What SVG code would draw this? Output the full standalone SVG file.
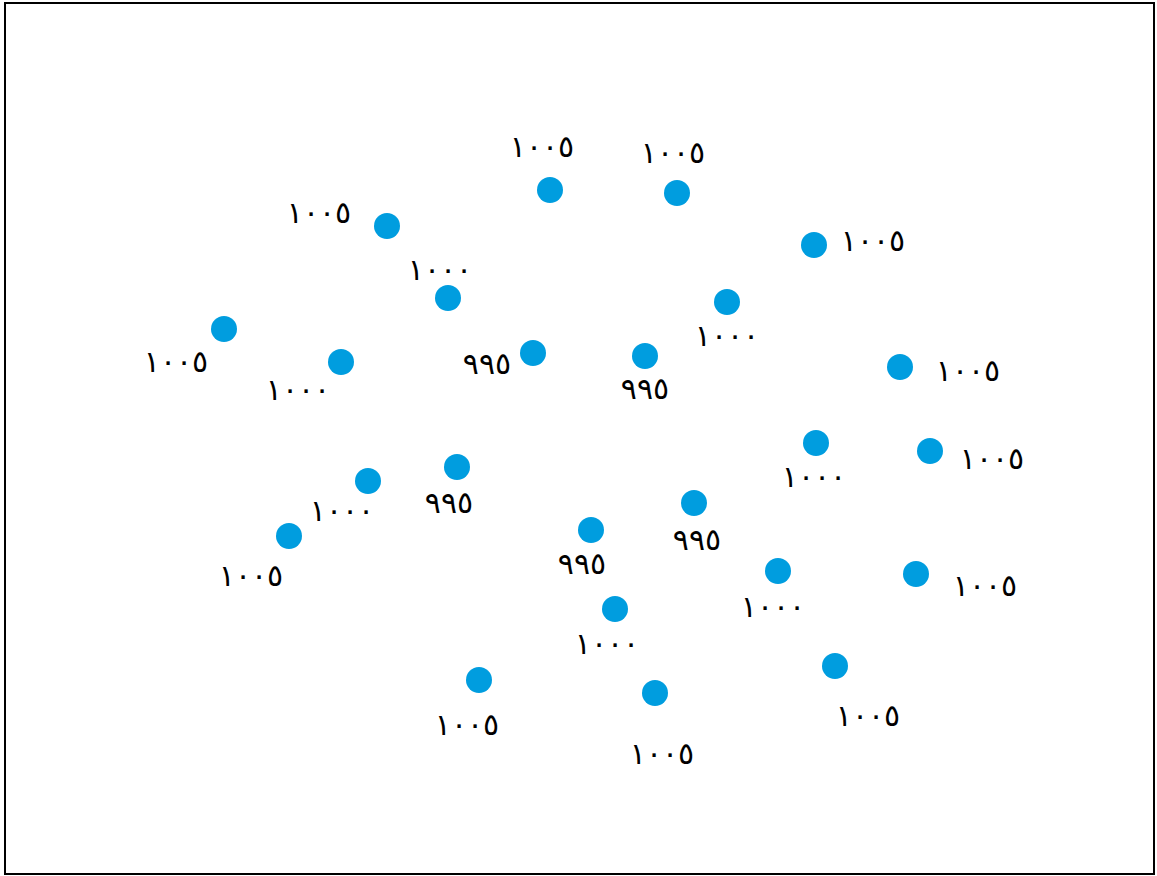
<svg xmlns="http://www.w3.org/2000/svg" width="1157" height="876" viewBox="0 0 1157 876">
<style>
.dot{fill:#009ddf;}
.lbl{font-family:"DejaVu Sans","Noto Sans",sans-serif;font-size:30px;fill:#000;text-anchor:middle;}
</style>
<rect x="0" y="0" width="1157" height="876" fill="#fff"/>
<rect x="5" y="3" width="1149" height="871" fill="none" stroke="#000" stroke-width="2"/>
<g id="connectors"/>
<g id="n1"><circle class="dot" cx="550" cy="190" r="13"/><text class="lbl" x="542" y="157">١٠٠٥</text></g>
<g id="n2"><circle class="dot" cx="677" cy="193" r="13"/><text class="lbl" x="673" y="163">١٠٠٥</text></g>
<g id="n3"><circle class="dot" cx="387" cy="226" r="13"/><text class="lbl" x="319" y="223">١٠٠٥</text></g>
<g id="n4"><circle class="dot" cx="814" cy="245" r="13"/><text class="lbl" x="873" y="251">١٠٠٥</text></g>
<g id="n5"><circle class="dot" cx="448" cy="298" r="13"/><text class="lbl" x="440" y="280">١٠٠٠</text></g>
<g id="n6"><circle class="dot" cx="727" cy="302" r="13"/><text class="lbl" x="727" y="346">١٠٠٠</text></g>
<g id="n7"><circle class="dot" cx="224" cy="329" r="13"/><text class="lbl" x="176" y="372">١٠٠٥</text></g>
<g id="n8"><circle class="dot" cx="341" cy="362" r="13"/><text class="lbl" x="298" y="400">١٠٠٠</text></g>
<g id="n9"><circle class="dot" cx="533" cy="353" r="13"/><text class="lbl" x="487" y="374">٩٩٥</text></g>
<g id="n10"><circle class="dot" cx="645" cy="356" r="13"/><text class="lbl" x="645" y="399">٩٩٥</text></g>
<g id="n11"><circle class="dot" cx="900" cy="367" r="13"/><text class="lbl" x="968" y="381">١٠٠٥</text></g>
<g id="n12"><circle class="dot" cx="816" cy="443" r="13"/><text class="lbl" x="814" y="487">١٠٠٠</text></g>
<g id="n13"><circle class="dot" cx="930" cy="451" r="13"/><text class="lbl" x="992" y="469">١٠٠٥</text></g>
<g id="n14"><circle class="dot" cx="457" cy="467" r="13"/><text class="lbl" x="449" y="513">٩٩٥</text></g>
<g id="n15"><circle class="dot" cx="368" cy="481" r="13"/><text class="lbl" x="342" y="521">١٠٠٠</text></g>
<g id="n16"><circle class="dot" cx="289" cy="536" r="13"/><text class="lbl" x="251" y="586">١٠٠٥</text></g>
<g id="n17"><circle class="dot" cx="694" cy="503" r="13"/><text class="lbl" x="697" y="550">٩٩٥</text></g>
<g id="n18"><circle class="dot" cx="591" cy="530" r="13"/><text class="lbl" x="582" y="574">٩٩٥</text></g>
<g id="n19"><circle class="dot" cx="778" cy="571" r="13"/><text class="lbl" x="773" y="617">١٠٠٠</text></g>
<g id="n20"><circle class="dot" cx="916" cy="574" r="13"/><text class="lbl" x="985" y="596">١٠٠٥</text></g>
<g id="n21"><circle class="dot" cx="615" cy="609" r="13"/><text class="lbl" x="607" y="654">١٠٠٠</text></g>
<g id="n22"><circle class="dot" cx="835" cy="666" r="13"/><text class="lbl" x="868" y="726">١٠٠٥</text></g>
<g id="n23"><circle class="dot" cx="479" cy="680" r="13"/><text class="lbl" x="467" y="735">١٠٠٥</text></g>
<g id="n24"><circle class="dot" cx="655" cy="693" r="13"/><text class="lbl" x="662" y="764">١٠٠٥</text></g>
</svg>
